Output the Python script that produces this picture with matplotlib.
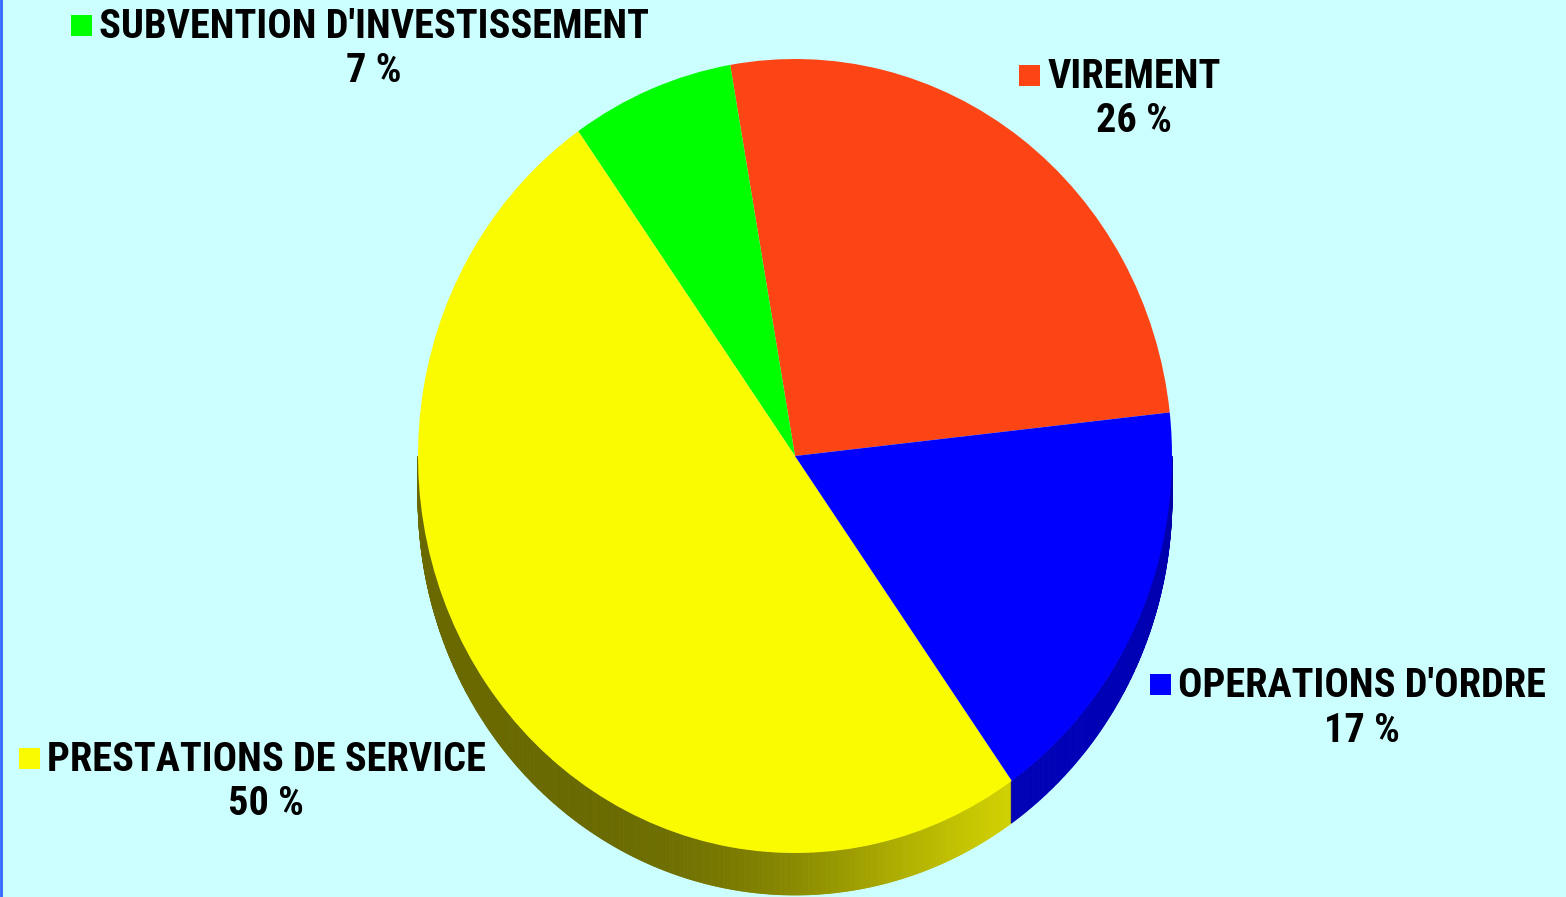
import numpy as np
import matplotlib.pyplot as plt
import matplotlib.colors as mcolors
from matplotlib.patches import Polygon, Rectangle
from matplotlib.lines import Line2D

# data
labels = ["VIREMENT", "SUBVENTION D'INVESTISSEMENT", "PRESTATIONS DE SERVICE", "OPERATIONS D'ORDRE"]
values = [26, 7, 50, 17]
colors = ['#FC4414', '#00FF00', '#FAFA00', '#0000FF']

W, H = 1566, 897
cx, cy, rx, ry, depth = 795, 456, 377, 397, 42
start = 6.3
bg = '#CCFFFF'

plt.rcParams['font.family'] = ['Roboto Condensed', 'Fira Sans Condensed', 'DejaVu Sans']

fig = plt.figure(figsize=(W / 100, H / 100), dpi=100, facecolor=bg)
ax = fig.add_axes([0, 0, 1, 1])
ax.set_facecolor('none')

# 3d side of the pie (only the front half is visible)
fr = np.cumsum([0] + values) / sum(values) * 360
d = depth / ry
ts = np.linspace(180, 360, 721)
for t1, t2 in zip(ts[:-1], ts[1:]):
    tm = 0.5 * (t1 + t2)
    rel = (tm - start) % 360
    i = np.searchsorted(fr, rel) - 1
    base = np.array(mcolors.to_rgb(colors[i]))
    if i == 2:
        fac = 0.42 + 0.45 * max(0, np.cos(np.radians(tm - 318))) ** 3
    else:
        fac = 0.62 + 0.1 * max(0, np.cos(np.radians(tm - 318))) ** 3
    a1, a2 = np.radians(t1), np.radians(t2)
    pts = [(np.cos(a1), np.sin(a1)), (np.cos(a2), np.sin(a2)),
           (np.cos(a2), np.sin(a2) - d), (np.cos(a1), np.sin(a1) - d)]
    ax.add_patch(Polygon(pts, closed=True, facecolor=base * fac,
                         edgecolor=base * fac, linewidth=0.6, zorder=1))

wedges, _ = ax.pie(values, colors=colors, startangle=start, counterclock=True,
                   radius=1, center=(0, 0), wedgeprops=dict(linewidth=0, zorder=2))
ax.set_aspect('auto')
ax.set_xlim(-cx / rx, (W - cx) / rx)
ax.set_ylim((cy - H) / ry, cy / ry)
ax.axis('off')

# labels (text centre x, baseline of first line, baseline of second line)
label_pos = [(1134, 88, 132), (374, 38, 82), (266, 771, 815), (1362, 697, 742)]
texts, pcts = [], []
for lab, v, (x, y1, y2) in zip(labels, values, label_pos):
    t = fig.text(x / W, 1 - y1 / H, lab, ha='center', va='baseline',
                 fontsize=27, fontweight='bold', color='black')
    p = fig.text(x / W, 1 - y2 / H, f"{v} %", ha='center', va='baseline',
                 fontsize=27, fontweight='bold', color='black')
    texts.append(t)
    pcts.append(p)

# fit the font size so the longest label is as wide as in the reference
fig.canvas.draw()
r = fig.canvas.get_renderer()
w = texts[1].get_window_extent(r).width
fs = 27 * 550 / w
for t in texts + pcts:
    t.set_fontsize(fs)
fig.canvas.draw()

for t, c, (x, y1, y2) in zip(texts, colors, label_pos):
    bb = t.get_window_extent(r)
    fig.add_artist(Rectangle((bb.x0 - 28, H - y1 + 2), 21, 21, transform=None,
                             facecolor=c, edgecolor='none'))

fig.add_artist(Line2D([1 / W, 1 / W], [0, 1], color='#3366FF', linewidth=2,
                      transform=fig.transFigure))

fig.savefig('out.png', dpi=100, facecolor=bg)
